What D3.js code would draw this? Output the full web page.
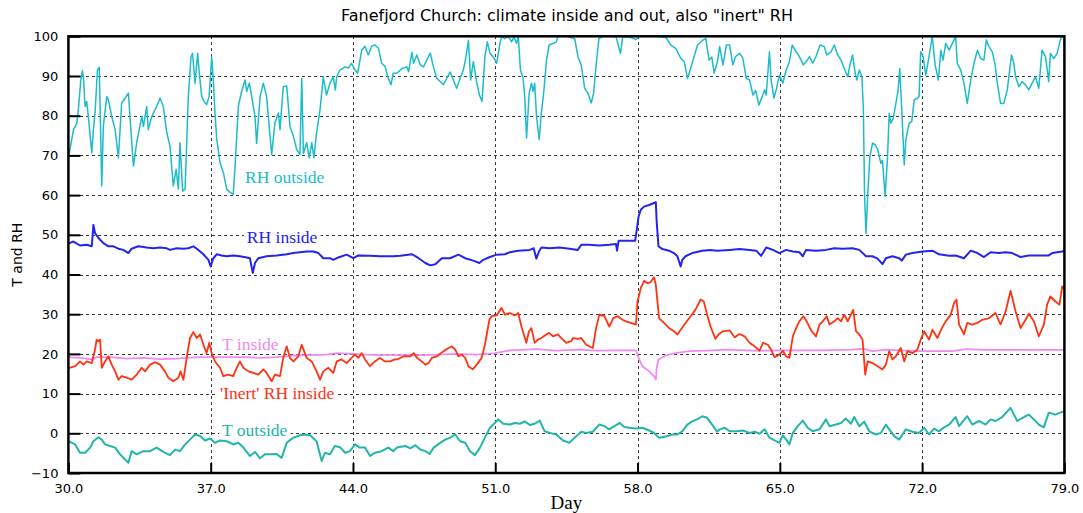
<!DOCTYPE html>
<html>
<head>
<meta charset="utf-8">
<script src="https://cdn.jsdelivr.net/npm/d3@7"></script>
<style>
  body { margin: 0; background: #fff; }
  svg { display: block; }
</style>
</head>
<body>
<svg id="chart" width="1083" height="513"></svg>
<script>
// ---- data: [day, value] ----
const xTicks = [30, 37, 44, 51, 58, 65, 72, 79];
const yTicks = [-10, 0, 10, 20, 30, 40, 50, 60, 70, 80, 90, 100];

const rhOutside = [
  [30.0,69.5],[30.05,70.7],[30.25,76.5],[30.41,78],[30.49,81.5],[30.61,89],[30.69,91.3],[30.74,89.8],[30.82,82.3],[30.9,83.6],
  [30.98,79.8],[31.15,70.7],[31.23,76.5],[31.31,80.7],[31.43,91.5],[31.52,92.2],[31.64,62.3],[31.72,77.5],[31.89,84.8],[31.97,84],
  [32.13,79.8],[32.3,76.5],[32.46,69.4],[32.62,83.2],[32.79,84.4],[32.95,85.7],[33.03,79.8],[33.2,67.3],[33.36,73.2],[33.61,79.8],
  [33.69,77.3],[33.85,82.3],[33.93,76.5],[34.1,79.8],[34.34,82.3],[34.51,84.4],[34.67,82.3],[34.84,75.7],[35.0,72.3],[35.16,62.3],
  [35.3,66.5],[35.41,61.5],[35.49,73.2],[35.62,61],[35.74,61.5],[35.9,84.8],[36.03,94.8],[36.11,95.7],[36.23,88.2],[36.36,95.7],
  [36.44,90.7],[36.56,84.8],[36.67,83.6],[36.8,82.8],[36.92,84.8],[37.0,90.7],[37.05,94.8],[37.13,89],[37.21,80.7],[37.3,74],
  [37.46,68.2],[37.62,65.7],[37.79,61.5],[37.95,60.7],[38.11,60.2],[38.2,67.3],[38.36,82.3],[38.52,86.1],[38.69,89],[38.77,86.1],
  [38.9,88.2],[39.02,84.8],[39.18,79.8],[39.26,73],[39.43,84.8],[39.59,88.2],[39.75,84.8],[40.0,70.2],[40.16,78.2],[40.33,80.7],
  [40.41,76.5],[40.57,87.3],[40.74,87.5],[40.9,77.3],[41.07,74.8],[41.23,71.5],[41.39,70.2],[41.48,89.4],[41.56,70.5],[41.72,73.2],
  [41.85,69.4],[41.97,73.2],[42.08,69.4],[42.21,75.7],[42.38,81.5],[42.54,89.8],[42.7,85.2],[42.87,88.2],[43.03,89.8],[43.13,86.5],
  [43.2,89.8],[43.36,91.5],[43.61,92.3],[43.77,92],[43.93,93.2],[44.1,91.5],[44.23,90.7],[44.43,96.5],[44.59,97.5],[44.75,95.3],
  [44.92,97.5],[45.08,97.8],[45.25,97],[45.41,93.2],[45.57,92.5],[45.74,89.4],[45.87,87.8],[45.98,90.7],[46.15,90.7],
  [46.25,91.1],[46.41,91.9],[46.65,92.3],[46.74,91.1],[46.9,96],[46.98,93.2],[47.14,95.3],[47.31,92.8],[47.47,92.3],[47.63,94],
  [47.8,95.8],[47.96,92.3],[48.12,89.4],[48.29,88.6],[48.45,87.8],[48.61,89.4],[48.78,91],[48.94,89],[49.1,86.9],[49.27,89.4],
  [49.43,91.5],[49.56,94.8],[49.68,99],[49.79,89],[49.92,93.6],[50.08,88.6],[50.22,85.2],[50.35,83.6],[50.49,94.8],[50.61,98.6],
  [50.74,95.7],[50.9,94.8],[51.07,93.2],[51.23,98.2],[51.31,100],[51.47,99.4],[51.64,100],[51.8,98.6],[51.92,99.8],[52.05,98.2],
  [52.13,100],[52.24,91.5],[52.37,89.4],[52.45,84.8],[52.54,74.4],[52.67,85.7],[52.78,88.2],[52.86,86.1],[52.94,88.2],[53.03,79.8],
  [53.16,74],[53.27,80.7],[53.39,86.1],[53.52,94],[53.65,97.8],[53.84,98.2],[54.01,98.6],[54.09,100],[54.5,100],[54.91,99.4],
  [55.07,94.8],[55.23,92.8],[55.4,86.9],[55.56,85.7],[55.72,83.2],[55.84,85.7],[55.97,93.2],[56.1,99.4],[56.29,100],[56.62,100],
  [56.95,99.8],[57.03,98.2],[57.16,95.7],[57.27,99.8],[57.6,99.8],[57.93,99.2],[58.09,100],[58.91,100],[59.4,99.7],[59.64,97.8],
  [59.89,96.9],[60.13,94.4],[60.3,93.6],[60.46,89.4],[60.54,90.7],[60.71,93.6],[60.95,97.8],[61.2,99],[61.36,99.4],[61.52,94],
  [61.65,94.8],[61.77,90.7],[61.93,93.6],[62.04,97.4],[62.2,92.8],[62.37,97.8],[62.53,97.8],[62.69,92.8],[62.82,94.9],[63.02,95.7],
  [63.18,94.5],[63.35,89.4],[63.51,89],[63.68,85.2],[63.81,86.4],[63.97,82.7],[64.13,84.8],[64.25,86.5],[64.33,85.2],[64.49,96.1],
  [64.57,89],[64.71,84.4],[64.82,86.5],[64.98,90.2],[65.15,88.2],[65.31,91.5],[65.47,93.6],[65.61,97.8],[65.8,96.1],[65.96,94.9],
  [66.16,92.8],[66.29,93.6],[66.46,94.9],[66.62,93.2],[66.78,94.9],[66.98,97.8],[67.19,97.4],[67.31,95.3],[67.52,96.1],[67.68,97.8],
  [67.85,95.3],[68.01,94],[68.17,91.9],[68.34,89.8],[68.45,92.8],[68.58,95.3],[68.71,90.6],[68.79,89],[68.91,91.5],[69.04,89.8],
  [69.11,81.4],[69.17,59.7],[69.24,50.4],[69.32,59.7],[69.43,69.7],[69.56,73.1],[69.69,72.7],[69.81,71.5],[69.97,68],[70.05,68.8],
  [70.18,59.7],[70.3,69.7],[70.38,80.6],[70.46,78.1],[70.58,79.4],[70.71,83.1],[70.82,86.4],[70.9,91.9],[71.0,81.4],[71.12,67.6],
  [71.2,73.9],[71.36,78.1],[71.49,78.5],[71.61,84],[71.77,84.4],[71.85,84.8],[71.93,96.1],[72.05,94.9],[72.18,90.2],[72.34,94.9],
  [72.5,100],[72.64,92.8],[72.8,89],[72.92,96.5],[73.03,94],[73.16,98.2],[73.33,96.5],[73.49,98.2],[73.65,99.9],[73.73,93.2],
  [73.9,91.5],[74.06,88.2],[74.22,83.1],[74.39,88.9],[74.55,93.2],[74.72,96.5],[74.88,94.4],[75.04,94],[75.16,99.1],[75.29,97.4],
  [75.45,96.1],[75.58,93.2],[75.7,88.2],[75.86,83.1],[76.02,83.1],[76.19,86.5],[76.4,95.3],[76.51,93.2],[76.6,89.8],[76.76,87.3],
  [76.92,88.6],[77.09,87.7],[77.25,86.5],[77.41,88.2],[77.58,89.8],[77.74,86.9],[77.9,96.5],[78.07,94.9],[78.23,88.6],[78.31,95.7],
  [78.48,94.4],[78.64,95.7],[78.8,99.1],[78.89,100],[79.0,100]
];

const rhInside = [
  [30.0,48.0],[30.05,47.9],[30.25,48.3],[30.57,47.3],[30.9,47.5],[31.15,47.1],[31.23,52.5],[31.31,50.4],[31.48,49.2],[31.72,47.9],
  [31.97,47.1],[32.21,47.1],[32.46,46.5],[32.7,46.2],[32.95,45.4],[33.11,46.5],[33.44,47.1],[33.85,46.8],[34.18,46.6],[34.51,46.8],
  [34.84,46.6],[35.0,46.2],[35.33,46.6],[35.66,46.5],[35.9,46.6],[36.15,47.1],[36.39,46.2],[36.64,45.1],[36.89,43.7],[37.0,42.0],
  [37.13,44.1],[37.3,45.1],[37.54,44.8],[37.79,44.6],[38.11,44.8],[38.44,44.6],[38.77,44.3],[38.93,44.1],[39.07,40.4],[39.18,42.9],
  [39.34,44.1],[39.75,44.6],[40.25,44.8],[40.74,45.1],[41.07,45.4],[41.39,45.6],[41.72,45.8],[42.05,45.8],[42.3,45.4],[42.54,44.1],
  [42.87,44.1],[43.03,43.7],[43.28,44.3],[43.69,45.0],[44.02,44.1],[44.26,44.8],[44.84,44.7],[45.33,44.6],[45.98,44.6],[46.33,44.7],
  [46.91,45.1],[47.23,44.1],[47.56,42.9],[47.8,42.3],[48.05,42.6],[48.37,44.1],[48.78,44.1],[49.19,45.0],[49.52,44.1],[49.92,43.5],
  [50.22,42.9],[50.41,43.7],[50.74,44.4],[51.07,45.0],[51.47,45.1],[51.72,45.6],[52.13,46.0],[52.7,46.2],[52.89,46.6],[53.02,44.0],
  [53.15,45.8],[53.27,46.8],[53.68,46.6],[54.16,46.8],[54.65,46.5],[55.06,46.2],[55.23,47.5],[55.63,47.5],[56.12,47.3],[56.61,47.5],
  [56.94,47.7],[56.99,46.0],[57.07,48.5],[57.88,48.5],[57.95,50.8],[58.05,54.6],[58.16,56.3],[58.32,57.1],[58.57,57.5],[58.9,58.2],
  [58.94,53.4],[59.03,47.1],[59.22,46.4],[59.55,46.0],[59.79,45.4],[59.96,44.6],[60.12,42.0],[60.2,43.7],[60.36,44.6],[60.69,45.4],
  [61.18,46.0],[61.59,46.2],[61.91,46.0],[62.53,46.2],[63.02,46.4],[63.51,46.2],[63.84,46.0],[64.08,44.7],[64.33,46.8],[64.66,46.2],
  [64.98,45.4],[65.31,46.2],[65.64,45.8],[65.96,45.6],[66.13,44.6],[66.29,46.2],[66.78,46.0],[67.27,46.2],[67.68,46.6],[68.09,46.5],
  [68.58,46.6],[68.91,46.2],[69.24,44.6],[69.56,44.6],[69.81,44.0],[70.05,42.6],[70.22,44.1],[70.54,44.6],[70.87,44.1],[71.0,43.5],
  [71.2,45.0],[71.53,45.4],[72.02,45.8],[72.51,46.0],[72.83,45.1],[73.33,44.7],[73.65,44.8],[74.06,44.1],[74.39,46.0],[74.72,45.4],
  [75.04,44.4],[75.37,45.6],[75.78,45.4],[76.11,45.6],[76.43,45.4],[76.84,44.4],[77.25,44.8],[77.74,44.8],[78.23,44.8],[78.4,45.4],
  [78.89,45.8],[79.0,46.0]
];

const tInside = [
  [30.0,19.2],[30.57,19.0],[31.15,18.6],[31.39,19.2],[32.05,19.2],[32.87,18.8],[33.69,19.0],[34.51,18.7],[35.33,18.8],[35.82,19.0],
  [36.48,19.2],[37.13,19.2],[37.79,19.2],[38.61,19.2],[39.43,19.0],[40.25,19.2],[41.07,19.6],[41.89,19.7],[42.7,19.8],[43.2,20.2],
  [44.02,20.0],[44.67,19.8],[45.33,19.7],[45.98,19.7],[47.48,19.7],[49.11,20.0],[50.09,19.8],[51.0,20.2],[51.72,20.9],[53.02,21.2],
  [54.0,20.8],[55.14,21.1],[55.96,20.8],[57.02,20.9],[57.92,20.9],[58.05,19.0],[58.24,16.9],[58.57,15.6],[58.81,14.4],[58.9,13.5],
  [58.94,16.5],[59.03,18.6],[59.39,19.6],[59.87,20.2],[60.53,20.7],[61.34,20.8],[62.45,21.1],[63.68,20.8],[65.31,20.9],[66.95,20.9],
  [68.58,21.1],[69.07,21.3],[69.56,20.7],[70.22,21.1],[71.2,20.8],[71.85,20.7],[73.49,20.7],[74.14,21.2],[75.12,21.0],[76.76,21.0],
  [79.0,21.0]
];

const inertRH = [
  [30.0,16.3],[30.05,16.5],[30.33,16.9],[30.57,18.1],[30.74,17.3],[30.9,18.1],[31.15,17.7],[31.31,21.1],[31.39,23.6],[31.48,23.2],
  [31.56,23.6],[31.64,16.5],[31.8,18.1],[31.97,19.4],[32.13,17.3],[32.3,15.6],[32.46,13.5],[32.62,14.4],[32.87,14.0],[33.11,13.5],
  [33.36,14.8],[33.61,16.5],[33.77,15.6],[34.02,17.3],[34.26,17.9],[34.51,17.3],[34.75,15.6],[34.92,14.0],[35.16,13.1],[35.41,14.0],
  [35.52,15.6],[35.66,13.5],[35.82,19.0],[35.98,24.0],[36.15,25.5],[36.31,24.0],[36.48,24.9],[36.64,22.3],[36.8,20.2],[36.93,22.8],
  [37.05,20.2],[37.21,18.1],[37.46,16.5],[37.62,14.4],[37.87,14.8],[38.11,14.4],[38.28,16.5],[38.44,18.1],[38.61,16.5],[38.85,15.6],
  [39.1,15.2],[39.34,14.8],[39.59,16.1],[39.75,15.2],[40.0,13.1],[40.16,14.8],[40.41,14.4],[40.57,19.0],[40.74,21.9],[40.9,19.0],
  [41.07,18.1],[41.31,19.4],[41.48,22.3],[41.72,19.0],[41.97,18.1],[42.21,15.6],[42.38,13.5],[42.54,15.6],[42.79,16.5],[43.03,15.2],
  [43.2,18.1],[43.44,18.6],[43.69,17.7],[43.93,19.0],[44.1,19.8],[44.26,19.0],[44.43,20.2],[44.59,18.6],[44.84,16.9],[45.08,18.1],
  [45.33,19.0],[45.57,18.1],[45.82,18.1],[46.07,18.6],[46.17,18.6],[46.5,19.4],[46.82,19.4],[46.99,20.2],[47.15,19.0],[47.39,18.1],
  [47.56,17.3],[47.72,17.7],[47.88,19.0],[48.13,19.4],[48.46,20.7],[48.7,21.5],[48.86,21.9],[49.03,21.1],[49.19,19.4],[49.35,19.8],
  [49.52,19.0],[49.68,16.9],[49.89,16.1],[50.09,17.3],[50.33,19.0],[50.49,22.3],[50.71,28.6],[50.82,29.5],[51.07,29.7],[51.31,31.6],
  [51.47,29.9],[51.72,30.3],[51.96,29.7],[52.13,30.3],[52.29,26.9],[52.53,22.8],[52.66,25.7],[52.78,26.5],[52.94,22.8],[53.1,23.6],
  [53.27,24.0],[53.51,24.9],[53.64,25.3],[53.84,24.4],[54.08,24.9],[54.25,24.0],[54.49,22.8],[54.74,23.2],[54.82,24.0],[55.06,23.8],
  [55.23,24.0],[55.47,22.3],[55.8,21.5],[55.96,26.5],[56.12,29.9],[56.37,29.5],[56.61,26.9],[56.81,29.0],[57.02,29.5],[57.26,28.6],
  [57.43,28.2],[57.67,27.8],[57.92,27.4],[58.0,33.2],[58.16,36.6],[58.32,38.4],[58.49,37.8],[58.65,38.1],[58.81,39.3],[58.9,37.4],
  [59.06,29.0],[59.3,27.8],[59.55,26.5],[59.79,25.7],[59.96,24.9],[60.12,26.1],[60.36,27.8],[60.61,29.5],[60.85,31.1],[61.1,33.7],
  [61.26,33.2],[61.42,29.9],[61.59,26.9],[61.83,23.8],[62.0,25.0],[62.2,25.7],[62.53,25.9],[62.78,24.2],[63.02,25.0],[63.27,24.4],
  [63.51,22.8],[63.76,21.9],[64.0,20.8],[64.17,22.8],[64.41,22.3],[64.57,21.1],[64.74,19.2],[64.98,19.8],[65.15,20.8],[65.31,19.4],
  [65.47,19.0],[65.64,24.4],[65.8,26.5],[65.96,28.2],[66.16,29.5],[66.32,28.2],[66.54,25.9],[66.78,24.4],[66.95,27.4],[67.11,28.2],
  [67.31,29.5],[67.44,27.4],[67.68,28.2],[67.85,29.0],[68.01,28.2],[68.17,29.9],[68.34,28.2],[68.5,29.9],[68.61,31.1],[68.75,25.7],
  [68.91,24.9],[69.07,23.6],[69.2,14.8],[69.32,18.1],[69.56,17.7],[69.81,16.9],[70.05,16.1],[70.22,17.3],[70.38,20.7],[70.54,18.6],
  [70.71,19.4],[70.95,21.5],[71.12,18.1],[71.28,20.7],[71.53,20.2],[71.77,21.1],[71.93,23.6],[72.1,25.7],[72.34,23.6],[72.51,26.1],
  [72.75,24.0],[72.97,26.5],[73.16,28.2],[73.41,29.9],[73.57,32.8],[73.69,33.7],[73.82,27.4],[74.06,24.9],[74.22,27.8],[74.47,27.4],
  [74.72,27.8],[74.96,28.6],[75.29,29.0],[75.61,30.3],[75.86,27.4],[76.11,30.7],[76.35,35.9],[76.6,30.7],[76.84,26.5],[77.09,28.6],
  [77.25,30.1],[77.5,28.2],[77.74,24.4],[77.99,27.4],[78.15,32.4],[78.31,34.5],[78.56,33.2],[78.76,32.4],[78.89,37.0],[79.0,36.5]
];

const tOutside = [
  [30.0,-2.0],[30.05,-2.1],[30.33,-2.8],[30.57,-4.9],[30.82,-4.9],[31.07,-3.6],[31.23,-2.0],[31.48,-1.0],[31.64,-1.6],[31.8,-2.8],
  [32.05,-3.2],[32.3,-3.6],[32.54,-5.3],[32.79,-6.6],[32.95,-7.4],[33.11,-4.5],[33.36,-5.3],[33.69,-4.5],[34.02,-4.5],[34.34,-3.6],
  [34.67,-4.7],[35.0,-5.5],[35.25,-4.1],[35.49,-4.5],[35.74,-2.8],[35.98,-1.6],[36.23,-0.3],[36.48,-0.7],[36.72,-1.8],[36.97,-1.3],
  [37.21,-2.4],[37.46,-1.8],[37.79,-2.0],[38.11,-2.8],[38.36,-2.4],[38.61,-3.6],[38.93,-5.7],[39.18,-4.7],[39.43,-6.3],[39.67,-5.3],
  [39.92,-5.3],[40.25,-5.2],[40.49,-6.2],[40.74,-2.4],[41.07,-1.1],[41.39,-0.5],[41.64,-0.3],[41.89,-0.5],[42.21,-2.0],[42.46,-7.0],
  [42.62,-4.9],[42.87,-5.3],[43.11,-3.2],[43.36,-3.5],[43.61,-4.9],[43.85,-4.5],[44.1,-2.8],[44.34,-3.6],[44.59,-3.6],[44.84,-5.7],
  [45.08,-4.9],[45.41,-4.5],[45.74,-3.6],[45.98,-4.5],[46.17,-3.6],[46.58,-3.2],[46.82,-3.8],[47.07,-3.0],[47.31,-4.1],[47.56,-4.5],
  [47.77,-5.2],[47.97,-3.6],[48.29,-2.4],[48.54,-1.6],[48.78,-1.1],[49.03,-0.3],[49.27,-2.0],[49.52,-2.4],[49.76,-4.5],[50.0,-5.5],
  [50.25,-3.6],[50.49,-1.1],[50.74,1.4],[50.98,2.6],[51.15,3.5],[51.39,2.4],[51.72,2.2],[51.96,2.6],[52.21,2.4],[52.45,3.0],
  [52.7,2.1],[52.94,2.4],[53.19,3.2],[53.43,0.5],[53.68,0.1],[54.0,-0.3],[54.33,-1.8],[54.65,-2.4],[54.9,-1.1],[55.23,0.4],
  [55.47,0.1],[55.8,0.4],[56.12,2.2],[56.37,1.8],[56.61,1.0],[56.86,1.8],[57.13,2.6],[57.35,1.6],[57.59,1.4],[57.92,1.2],
  [58.24,1.4],[58.57,0.7],[58.81,0.1],[59.06,-1.1],[59.39,-0.8],[59.71,-0.3],[59.96,-0.3],[60.2,0.5],[60.45,2.2],[60.69,3.0],
  [60.93,3.5],[61.18,4.3],[61.42,3.9],[61.67,2.2],[61.91,0.4],[62.04,1.0],[62.29,1.4],[62.53,0.5],[62.86,0.5],[63.18,0.7],
  [63.51,0.1],[63.76,0.4],[64.0,-0.1],[64.25,1.0],[64.49,-1.1],[64.74,-1.8],[64.98,-2.4],[65.15,-0.5],[65.31,-1.6],[65.47,-2.8],
  [65.64,0.1],[65.88,1.8],[66.13,3.2],[66.37,1.4],[66.62,0.5],[66.95,1.0],[67.27,3.5],[67.44,1.8],[67.76,2.2],[68.01,2.6],
  [68.25,3.7],[68.5,2.4],[68.66,4.1],[68.91,1.8],[69.15,2.9],[69.4,0.5],[69.73,-0.3],[69.97,0.1],[70.22,2.2],[70.38,1.0],
  [70.63,-0.7],[70.87,-1.6],[71.2,1.0],[71.53,0.4],[71.85,0.1],[72.1,1.4],[72.34,-0.3],[72.59,1.2],[72.83,0.5],[73.08,1.5],
  [73.33,2.2],[73.65,4.1],[73.82,1.8],[74.22,4.3],[74.47,2.2],[74.8,3.1],[75.12,2.2],[75.37,3.5],[75.61,3.1],[75.94,4.1],
  [76.35,6.4],[76.68,3.1],[77.01,4.1],[77.25,4.7],[77.5,3.5],[77.74,2.2],[77.99,1.5],[78.23,5.2],[78.56,4.7],[78.89,5.4],[79.0,5.5]
];

const titleText = 'Fanefjord Church: climate inside and out, also "inert" RH';
const xLabel = "Day";
const yLabel = "T and RH";

// ---- layout ----
const plot = { left: 68.4, right: 1064.4, top: 36.3, bottom: 473 };
const sansFont = "'DejaVu Sans', Verdana, sans-serif";
const serifFont = "'Liberation Serif', 'Times New Roman', serif";

const svg = d3.select("#chart");
const x = d3.scaleLinear().domain([30, 79]).range([plot.left, plot.right]);
const y = d3.scaleLinear().domain([-10, 100]).range([plot.bottom, plot.top]);

// dashed grid
const grid = svg.append("g").attr("stroke", "#3a3a3a").attr("stroke-width", 1)
  .attr("stroke-dasharray", "3,3").attr("shape-rendering", "crispEdges");
grid.selectAll("line.gx").data(xTicks.slice(1, -1)).join("line")
  .attr("x1", d => Math.round(x(d)) + 0.5).attr("x2", d => Math.round(x(d)) + 0.5)
  .attr("y1", plot.top).attr("y2", plot.bottom);
grid.selectAll("line.gy").data(yTicks.slice(1, -1)).join("line")
  .attr("x1", plot.left).attr("x2", plot.right)
  .attr("y1", d => Math.round(y(d)) + 0.5).attr("y2", d => Math.round(y(d)) + 0.5);

// series labels, anchored in data space; a white box masks the grid behind each
const seriesLabels = [
  { text: "RH outside",         color: "#1cbccb", at: [38.69, 63.1] },
  { text: "RH inside",          color: "#2424ee", at: [38.78, 47.9] },
  { text: "T inside",           color: "#f28af2", at: [37.56, 21.0] },
  { text: "'Inert' RH inside",  color: "#ff3312", at: [37.46, 8.66] },
  { text: "T outside",          color: "#22b6aa", at: [37.56, -0.68] }
];
const labelBg = svg.append("g");

// series
svg.append("clipPath").attr("id", "plotClip").append("rect")
  .attr("x", plot.left).attr("y", plot.top)
  .attr("width", plot.right - plot.left).attr("height", plot.bottom - plot.top);

const line = d3.line().x(d => x(d[0])).y(d => y(d[1]));
const series = [
  { data: rhOutside, color: "#1cbccb", width: 1.5 },
  { data: tOutside,  color: "#22b6aa", width: 2 },
  { data: tInside,   color: "#f28af2", width: 1.8 },
  { data: inertRH,   color: "#ff3312", width: 1.8 },
  { data: rhInside,  color: "#2424ee", width: 2 }
];
const lines = svg.append("g").attr("clip-path", "url(#plotClip)");
lines.selectAll("path").data(series).join("path")
  .attr("fill", "none")
  .attr("stroke", d => d.color)
  .attr("stroke-width", d => d.width)
  .attr("stroke-linejoin", "round")
  .attr("d", d => line(d.data));

const labelText = svg.append("g").selectAll("text").data(seriesLabels).join("text")
  .attr("x", d => x(d.at[0])).attr("y", d => y(d.at[1]))
  .attr("fill", d => d.color)
  .attr("font-family", serifFont).attr("font-size", 17.5)
  .text(d => d.text);
labelText.each(function () {
  const b = this.getBBox();
  labelBg.append("rect")
    .attr("x", b.x - 3).attr("y", b.y + 1)
    .attr("width", b.width + 6).attr("height", b.height - 2)
    .attr("fill", "#fff");
});

// axes with inward ticks
const yAxis = d3.axisLeft(y).tickValues(yTicks).tickSize(-12).tickPadding(10)
  .tickFormat(d3.format("d"));
const gy = svg.append("g").attr("transform", `translate(${plot.left},0)`).call(yAxis);
const xAxis = d3.axisBottom(x).tickValues(xTicks).tickSize(-10).tickPadding(11)
  .tickFormat(d3.format(".1f"));
const gx = svg.append("g").attr("transform", `translate(0,${plot.bottom})`).call(xAxis);
[gx, gy].forEach(g => {
  g.select(".domain").remove();
  g.selectAll(".tick line").attr("stroke", "#000").attr("stroke-width", 2);
  g.selectAll(".tick text").attr("fill", "#000")
    .attr("font-family", sansFont).attr("font-size", 13);
});

// frame
svg.append("rect")
  .attr("x", plot.left).attr("y", plot.top)
  .attr("width", plot.right - plot.left).attr("height", plot.bottom - plot.top)
  .attr("fill", "none").attr("stroke", "#000").attr("stroke-width", 2.5);

// title and axis titles
svg.append("text").attr("x", 567).attr("y", 21).attr("text-anchor", "middle")
  .attr("font-family", sansFont).attr("font-size", 16).attr("fill", "#000")
  .text(titleText);
svg.append("text").attr("x", (plot.left + plot.right) / 2).attr("y", 509)
  .attr("text-anchor", "middle").attr("font-family", serifFont).attr("font-size", 19)
  .attr("fill", "#000").text(xLabel);
svg.append("text")
  .attr("transform", `translate(22,${(plot.top + plot.bottom) / 2}) rotate(-90)`)
  .attr("text-anchor", "middle").attr("font-family", sansFont).attr("font-size", 14)
  .attr("fill", "#000").text(yLabel);
</script>
</body>
</html>
